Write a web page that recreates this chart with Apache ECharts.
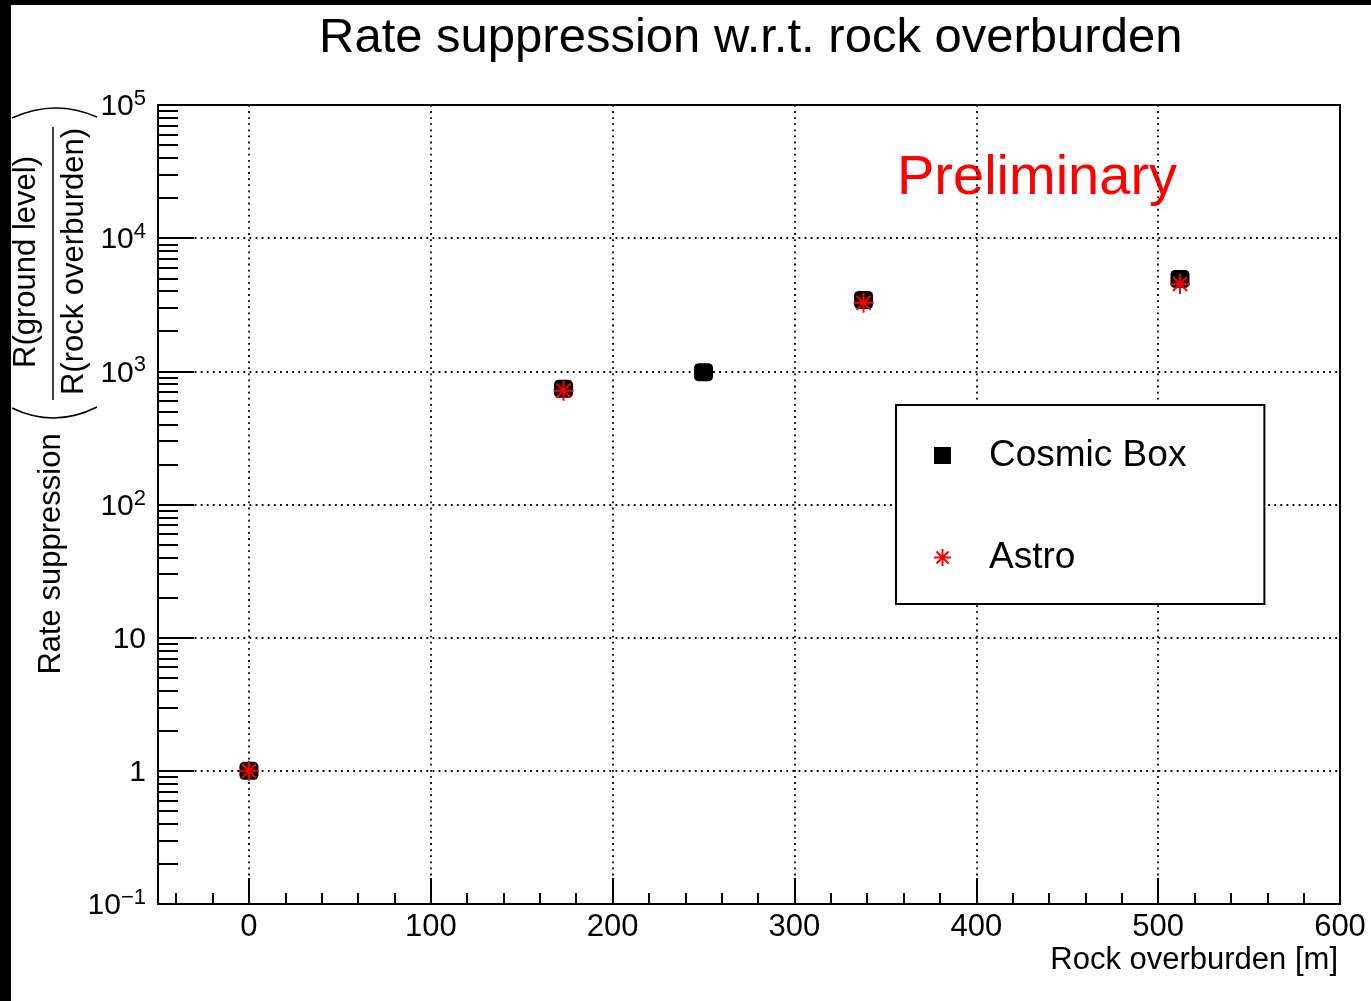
<!DOCTYPE html>
<html>
<head>
<meta charset="utf-8">
<script src="https://cdn.jsdelivr.net/npm/echarts@6/dist/echarts.min.js"></script>
<style>
html,body{margin:0;padding:0;background:#fff;}
#chart{width:1371px;height:1001px;}
</style>
</head>
<body>
<div id="chart"></div>
<script>
// ---- data ----
const cosmicX = [0, 173, 250, 338, 512];
const cosmicY = [1, 740, 985, 3430, 4940];
const astroX = [0, 173, 338, 512];
const astroY = [1, 715, 3270, 4530];
const xMajorTicks = [0, 100, 200, 300, 400, 500, 600];
const xMinorTicks = [-40, -20, 20, 40, 60, 80, 120, 140, 160, 180, 220, 240, 260, 280, 320, 340, 360, 380, 420, 440, 460, 480, 520, 540, 560, 580];
const yMinorMantissas = [2, 3, 4, 5, 6, 7, 8, 9];
const yDecades = [0.1, 1, 10, 100, 1000, 10000];

const FONT = '"Liberation Sans", Arial, Helvetica, sans-serif';
const yMinorTicks = [];
yDecades.forEach(d => yMinorMantissas.forEach(m => yMinorTicks.push(+(d * m).toPrecision(3))));

const starPath = 'path://M0,-10L0,10M-10,0L10,0M-7.07,-7.07L7.07,7.07M-7.07,7.07L7.07,-7.07';
const dotted = {color: '#000', width: 1.8, type: [1.8, 4.3]};

const chart = echarts.init(document.getElementById('chart'), null, {renderer: 'canvas'});
chart.setOption({
  animation: false,
  backgroundColor: '#fff',
  title: {
    text: 'Rate suppression w.r.t. rock overburden',
    left: 319, top: 14, padding: 0,
    textStyle: {fontFamily: FONT, fontSize: 49, fontWeight: 'normal', color: '#000'}
  },
  grid: {
    left: 158, top: 105, right: 31, bottom: 97,
    show: true, borderColor: '#000', borderWidth: 2, backgroundColor: '#fff'
  },
  legend: {
    orient: 'vertical', left: 896, top: 405,
    padding: [32, 78, 28, 37],
    borderColor: '#000', borderWidth: 2, backgroundColor: '#fff',
    itemWidth: 17, itemHeight: 17, itemGap: 65,
    selectedMode: false,
    textStyle: {fontFamily: FONT, fontSize: 37, color: '#000', padding: [0, 0, 0, 33]},
    data: [{name: 'Cosmic Box', icon: 'rect'}, {name: 'Astro', icon: starPath}]
  },
  xAxis: [{
    type: 'value', min: -50, max: 600, position: 'bottom',
    axisLine: {show: false, onZero: false},
    axisTick: {show: true, inside: true, length: 26, customValues: xMajorTicks, lineStyle: {color: '#000', width: 2}},
    axisLabel: {customValues: xMajorTicks, fontFamily: FONT, fontSize: 31, color: '#000', margin: 8},
    splitLine: {show: true, lineStyle: dotted},
    name: 'Rock overburden [m]', nameLocation: 'end', nameGap: -2,
    nameTextStyle: {fontFamily: FONT, fontSize: 31, color: '#000', align: 'right', verticalAlign: 'top', padding: [41, 0, 0, 0]}
  }, {
    type: 'value', min: -50, max: 600, position: 'bottom',
    axisLine: {show: false, onZero: false},
    axisTick: {show: true, inside: true, length: 11, customValues: xMinorTicks, lineStyle: {color: '#000', width: 2}},
    axisLabel: {show: false},
    splitLine: {show: false}
  }],
  yAxis: [{
    type: 'log', logBase: 10, min: 0.1, max: 100000, position: 'left',
    axisLine: {show: false, onZero: false},
    axisTick: {show: true, inside: true, length: 36, lineStyle: {color: '#000', width: 2}},
    axisLabel: {
      fontFamily: FONT, color: '#000', margin: 12,
      formatter: function (v) {
        const e = Math.round(Math.log10(v));
        if (e === 0) return '{b|1}';
        if (e === 1) return '{b|10}';
        return '{b|10}{s|' + (e < 0 ? '\u2212' : '') + Math.abs(e) + '}';
      },
      rich: {
        b: {fontFamily: FONT, fontSize: 30, color: '#000', lineHeight: 34, padding: [4, 0, 0, 0]},
        s: {fontFamily: FONT, fontSize: 22, color: '#000', lineHeight: 22, verticalAlign: 'top'}
      }
    },
    splitLine: {show: true, lineStyle: dotted}
  }, {
    type: 'log', logBase: 10, min: 0.1, max: 100000, position: 'left',
    axisLine: {show: false, onZero: false},
    axisTick: {show: true, inside: true, length: 20, customValues: yMinorTicks, lineStyle: {color: '#000', width: 2}},
    axisLabel: {show: false},
    splitLine: {show: false}
  }],
  series: [{
    name: 'Cosmic Box', type: 'scatter', xAxisIndex: 0, yAxisIndex: 0,
    symbol: 'roundRect', symbolSize: [19, 18],
    itemStyle: {color: '#000', opacity: 1},
    data: cosmicX.map((x, i) => [x, cosmicY[i]])
  }, {
    name: 'Astro', type: 'scatter', xAxisIndex: 0, yAxisIndex: 0,
    symbol: starPath, symbolSize: 20,
    itemStyle: {color: '#ff0000', borderColor: '#ff0000', borderWidth: 2, opacity: 1},
    data: astroX.map((x, i) => [x, astroY[i]])
  }],
  graphic: [
    {type: 'rect', shape: {x: 0, y: 0, width: 11, height: 1001}, style: {fill: '#000'}, silent: true},
    {type: 'rect', shape: {x: 0, y: 0, width: 1371, height: 5}, style: {fill: '#000'}, silent: true},
    {type: 'text', x: 897, y: 179, style: {text: 'Preliminary', fill: '#ff0000', font: '56px ' + FONT, align: 'left', verticalAlign: 'middle'}},
    {type: 'text', x: 51, y: 554, rotation: Math.PI / 2, style: {text: 'Rate suppression', fill: '#000', font: '31px ' + FONT, align: 'center', verticalAlign: 'middle'}},
    {type: 'text', x: 26, y: 262, rotation: Math.PI / 2, style: {text: 'R(ground level)', fill: '#000', font: '31px ' + FONT, align: 'center', verticalAlign: 'middle'}},
    {type: 'text', x: 74, y: 261.5, rotation: Math.PI / 2, style: {text: 'R(rock overburden)', fill: '#000', font: '31px ' + FONT, align: 'center', verticalAlign: 'middle'}},
    {type: 'line', shape: {x1: 53, y1: 127, x2: 53, y2: 400}, style: {stroke: '#000', lineWidth: 1.5}},
    {type: 'bezierCurve', shape: {x1: 12, y1: 118, x2: 97, y2: 117, cpx1: 54.5, cpy1: 98.5}, style: {stroke: '#000', lineWidth: 1.5, fill: null}},
    {type: 'bezierCurve', shape: {x1: 12, y1: 408, x2: 97, y2: 407, cpx1: 54.5, cpy1: 428.5}, style: {stroke: '#000', lineWidth: 1.5, fill: null}}
  ]
});
</script>
</body>
</html>
